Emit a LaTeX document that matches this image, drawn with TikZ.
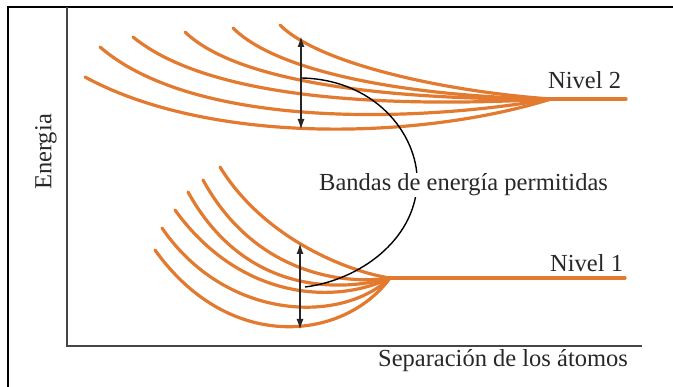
\documentclass[tikz,border=0pt]{standalone}
\usepackage{fontspec}
\setmainfont{Liberation Serif}
\usetikzlibrary{arrows.meta}
\definecolor{band}{RGB}{226,122,48}
\definecolor{txt}{RGB}{40,40,40}
\definecolor{axis}{RGB}{70,70,70}
\begin{document}
\begin{tikzpicture}[x=1pt,y=-1pt,
  bandline/.style={draw=band,line width=3.2pt,line cap=round},
  gaparrow/.style={draw=black!85,line width=1.8pt,{Latex[length=11pt,width=7pt]}-{Latex[length=11pt,width=7pt]}},
  frameline/.style={draw=black,line width=1.3pt},
  axisline/.style={draw=axis,line width=2pt},
  lbl/.style={text=txt,font=\fontsize{24.5}{28}\selectfont,inner sep=0pt}]
\useasboundingbox[fill=white] (0,0) rectangle (673,387);
% frame
\coordinate (fTL) at (8,7);
\coordinate (fTR) at (673,7);
\coordinate (fBL) at (8,387);
\draw[frameline] (fBL) -- (fTL) -- (fTR);
% axes
\coordinate (axTop) at (67,7);
\coordinate (axO) at (67,346);
\coordinate (axR) at (642,346);
\draw[axisline] (axTop) -- (axO) -- (axR);
% level 2 bands
\coordinate (E2) at (551,99);
\coordinate (N2end) at (626,99);
\draw[bandline] (85,77) .. controls (210,145) and (420,140) .. (E2);
\draw[bandline] (100,47) .. controls (190,125) and (400,125) .. (E2);
\draw[bandline] (133,37) .. controls (210,100) and (390,108) .. (E2);
\draw[bandline] (185,32) .. controls (240,85) and (400,100) .. (E2);
\draw[bandline] (233,28) .. controls (280,75) and (420,97) .. (E2);
\draw[bandline] (280,25) .. controls (320,65) and (450,92) .. (E2);
\draw[bandline] (E2) -- (N2end);
% level 1 bands
\coordinate (E1) at (390,278);
\coordinate (N1end) at (625,278);
\draw[bandline] (155,250) .. controls (230,355) and (345,340) .. (E1);
\draw[bandline] (162,228) .. controls (225,320) and (340,325) .. (E1);
\draw[bandline] (175,210) .. controls (240,300) and (335,305) .. (E1);
\draw[bandline] (188,192) .. controls (245,295) and (340,292) .. (E1);
\draw[bandline] (203,180) .. controls (255,275) and (345,285) .. (E1);
\draw[bandline] (220,167) .. controls (265,240) and (350,272) .. (E1);
\draw[bandline] (E1) -- (N1end);
% gap arrows
\coordinate (a2t) at (301,36);
\coordinate (a2b) at (301,130);
\draw[gaparrow] (a2t) -- (a2b);
\coordinate (a1t) at (300,243);
\coordinate (a1b) at (300,330);
\draw[gaparrow] (a1t) -- (a1b);
% connector
\coordinate (c2) at (302,78);
\coordinate (c1) at (305,287);
\draw[black,line width=1.4pt] (c2) .. controls (380,80) and (420,140) .. (417,185)
  .. controls (414,240) and (360,280) .. (c1);
% labels
\node[lbl,fill=white,inner sep=1pt,anchor=base west] (bandas) at (318,191) {Bandas de energía permitidas};
\node[lbl,anchor=base west] (niv2) at (548,89) {Nivel 2};
\node[lbl,anchor=base west] (niv1) at (550,272) {Nivel 1};
\node[lbl,anchor=base west] (sep) at (378,367) {Separación de los átomos};
\node[lbl,rotate=90] (ener) at (46,152) {Energia};
\end{tikzpicture}
\end{document}
